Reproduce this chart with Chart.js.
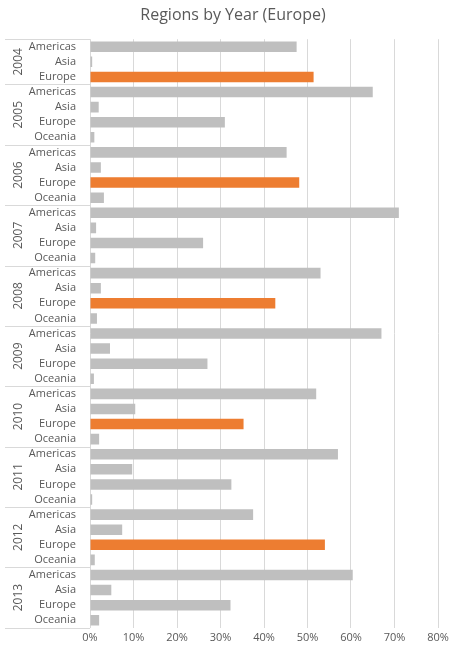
<!DOCTYPE html>
<html>
<head>
<meta charset="utf-8">
<script src="https://cdn.jsdelivr.net/npm/chart.js@4"></script>
<style>
  html, body { margin: 0; padding: 0; background: #fff; }
  #wrap { width: 456px; height: 651px; }
</style>
</head>
<body>
<div id="wrap"><canvas id="chart"></canvas></div>
<script>
// Data
const years = ['2004', '2005', '2006', '2007', '2008', '2009', '2010', '2011', '2012', '2013'];
const regions2004 = ['Americas', 'Asia', 'Europe'];
const regionsAll = ['Americas', 'Asia', 'Europe', 'Oceania'];
const shares = [
    [0.475, 0.005, 0.514],
    [0.650, 0.020, 0.310, 0.010],
    [0.452, 0.025, 0.481, 0.032],
    [0.710, 0.014, 0.260, 0.012],
    [0.530, 0.025, 0.426, 0.016],
    [0.670, 0.046, 0.270, 0.009],
    [0.520, 0.104, 0.353, 0.021],
    [0.570, 0.097, 0.325, 0.005],
    [0.375, 0.074, 0.540, 0.011],
    [0.604, 0.049, 0.323, 0.021]
];
const highlightYears = ['2004', '2006', '2008', '2010', '2012'];
const xTicks = [0, 0.1, 0.2, 0.3, 0.4, 0.5, 0.6, 0.7, 0.8];

const grey = '#BFBFBF';
const orange = '#ED7D31';

// flatten into rows
const labels = [];
const values = [];
const colors = [];
const groups = [];
years.forEach((year, i) => {
    const regs = i === 0 ? regions2004 : regionsAll;
    const start = labels.length;
    regs.forEach((r, j) => {
        labels.push(r);
        values.push(shares[i][j]);
        colors.push(r === 'Europe' && highlightYears.includes(year) ? orange : grey);
    });
    groups.push({ year, start, end: labels.length - 1 });
});

const yearPlugin = {
    id: 'yearLabels',
    afterDraw(chart) {
        const ctx = chart.ctx;
        const y = chart.scales.y;
        const area = chart.chartArea;
        const step = y.getPixelForValue(1) - y.getPixelForValue(0);
        ctx.save();
        ctx.strokeStyle = '#D9D9D9';
        ctx.lineWidth = 1;
        groups.forEach(g => {
            const top = y.getPixelForValue(g.start) - step / 2;
            const bottom = y.getPixelForValue(g.end) + step / 2;
            ctx.beginPath();
            ctx.moveTo(5, Math.round(top) + 0.5);
            ctx.lineTo(area.left, Math.round(top) + 0.5);
            ctx.moveTo(5, Math.round(bottom) + 0.5);
            ctx.lineTo(area.left, Math.round(bottom) + 0.5);
            ctx.stroke();
            ctx.save();
            ctx.translate(19, (top + bottom) / 2);
            ctx.rotate(-Math.PI / 2);
            ctx.fillStyle = '#595959';
            ctx.font = '12px "Open Sans"';
            ctx.textAlign = 'center';
            ctx.textBaseline = 'middle';
            ctx.fillText(g.year, 0, 0);
            ctx.restore();
        });
        ctx.restore();
    }
};

new Chart(document.getElementById('chart'), {
    type: 'bar',
    data: {
        labels: labels,
        datasets: [{
            data: values,
            backgroundColor: colors,
            barPercentage: 0.7,
            categoryPercentage: 1.0
        }]
    },
    options: {
        indexAxis: 'y',
        responsive: true,
        maintainAspectRatio: false,
        animation: false,
        layout: { padding: { left: 28, right: 18, top: 0, bottom: 4 } },
        plugins: {
            legend: { display: false },
            tooltip: { enabled: false },
            title: {
                display: true,
                text: 'Regions by Year (Europe)',
                color: '#595959',
                font: { family: 'Open Sans', size: 16, weight: 'normal' },
                padding: { top: 6, bottom: 14 }
            }
        },
        scales: {
            x: {
                min: 0,
                max: 0.8,
                afterBuildTicks: scale => { scale.ticks = xTicks.map(v => ({ value: v })); },
                ticks: {
                    color: '#595959',
                    font: { family: 'Open Sans', size: 11 },
                    callback: v => Math.round(v * 100) + '%'
                },
                grid: { color: '#D9D9D9', drawTicks: false },
                border: { display: false }
            },
            y: {
                afterFit: scale => { scale.width = 62; },
                ticks: {
                    color: '#595959',
                    font: { family: 'Open Sans', size: 11 },
                    autoSkip: false,
                    padding: 6
                },
                grid: { display: false },
                border: { display: false }
            }
        }
    },
    plugins: [yearPlugin]
});
</script>
</body>
</html>
